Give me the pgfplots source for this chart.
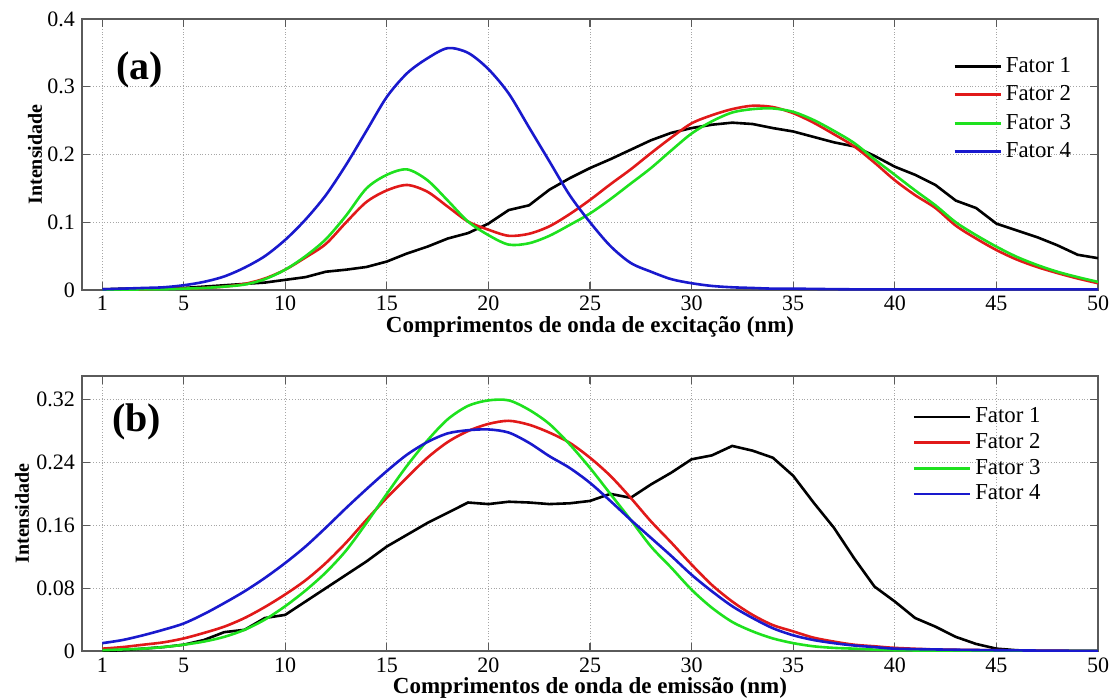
\documentclass[border=0pt]{standalone}
\usepackage{fontspec}
\setmainfont{Liberation Serif}
\usepackage{pgfplots}
\pgfplotsset{compat=1.18}
\definecolor{cred}{RGB}{225,25,25}
\definecolor{cgreen}{RGB}{30,225,30}
\definecolor{cblue}{RGB}{25,25,205}
\definecolor{axgray}{RGB}{90,90,90}
\pgfplotsset{
  myaxis/.style={
    scale only axis, width=508pt,
    xmin=0, xmax=50,
    xtick={1,5,10,15,20,25,30,35,40,45,50},
    grid=major,
    major grid style={densely dotted, gray!70, line width=0.5pt},
    axis line style={axgray, line width=0.7pt},
    tick style={axgray, line width=0.6pt},
    tick align=inside, major tick length=4pt,
    tick label style={font=\fontsize{11}{11}\selectfont},
    xticklabel style={inner ysep=0.5pt, yshift=-2.7pt},
    /pgf/number format/assume math mode=true,
    label style={font=\bfseries\fontsize{11.5}{11.5}\selectfont},
    legend cell align=left,
    legend style={draw=none, fill=none, inner sep=0pt, font=\fontsize{11.4}{11.4}\selectfont},
    every axis plot/.append style={line width=1.3pt},
  }
}
\begin{document}
\begin{tikzpicture}
\useasboundingbox (-41pt,-23.5pt) rectangle (514.5pt,325.5pt);
% ---------------- top panel
\begin{axis}[myaxis, at={(0pt,180.5pt)}, anchor=south west, height=135.5pt,
  ymin=0, ymax=0.4, ytick={0,0.1,0.2,0.3,0.4},
  yticklabels={0,0.1,0.2,0.3,0.4},
  xticklabel style={yshift=0.6pt},
  xlabel={Comprimentos de onda de excitação (nm)},
  xlabel style={at={(axis description cs:0.5,-0.158)}, anchor=base, inner sep=0pt},
  ylabel={Intensidade},
  ylabel style={font=\bfseries\fontsize{10}{10}\selectfont, at={(axis description cs:-0.0463,0.5)}, anchor=center},
  legend style={at={(0.857,0.874)}, anchor=north west, row sep=1.1pt},
  legend image code/.code={\draw[#1, line width=1.4pt] (0pt,0pt) -- (23pt,0pt);},
]
\addplot[black] coordinates {(1,0.001)(2,0.002)(3,0.002)(4,0.002)(5,0.003)(6,0.005)(7,0.007)(8,0.009)(9,0.011)(10,0.015)(11,0.019)(12,0.027)(13,0.030)(14,0.034)(15,0.042)(16,0.054)(17,0.064)(18,0.076)(19,0.084)(20,0.098)(21,0.118)(22,0.125)(23,0.148)(24,0.165)(25,0.180)(26,0.193)(27,0.207)(28,0.221)(29,0.232)(30,0.239)(31,0.244)(32,0.247)(33,0.245)(34,0.239)(35,0.234)(36,0.226)(37,0.218)(38,0.212)(39,0.198)(40,0.182)(41,0.170)(42,0.155)(43,0.132)(44,0.121)(45,0.098)(46,0.088)(47,0.078)(48,0.066)(49,0.052)(50,0.047)};
\addlegendentry{Fator 1}
\addplot[cred, smooth, tension=0.5] coordinates {(1,0.000)(2,0.001)(3,0.001)(4,0.002)(5,0.002)(6,0.003)(7,0.005)(8,0.009)(9,0.017)(10,0.030)(11,0.048)(12,0.068)(13,0.100)(14,0.130)(15,0.147)(16,0.155)(17,0.145)(18,0.123)(19,0.101)(20,0.089)(21,0.080)(22,0.083)(23,0.094)(24,0.112)(25,0.133)(26,0.156)(27,0.178)(28,0.202)(29,0.225)(30,0.246)(31,0.258)(32,0.267)(33,0.272)(34,0.270)(35,0.261)(36,0.247)(37,0.230)(38,0.212)(39,0.188)(40,0.162)(41,0.140)(42,0.121)(43,0.095)(44,0.076)(45,0.059)(46,0.045)(47,0.034)(48,0.025)(49,0.017)(50,0.010)};
\addlegendentry{Fator 2}
\addplot[cgreen, smooth, tension=0.5] coordinates {(1,0.000)(2,0.000)(3,0.001)(4,0.001)(5,0.002)(6,0.003)(7,0.005)(8,0.008)(9,0.016)(10,0.030)(11,0.050)(12,0.075)(13,0.110)(14,0.150)(15,0.170)(16,0.178)(17,0.162)(18,0.132)(19,0.101)(20,0.081)(21,0.067)(22,0.069)(23,0.080)(24,0.096)(25,0.113)(26,0.134)(27,0.157)(28,0.180)(29,0.206)(30,0.231)(31,0.249)(32,0.262)(33,0.267)(34,0.268)(35,0.263)(36,0.251)(37,0.235)(38,0.217)(39,0.193)(40,0.170)(41,0.147)(42,0.125)(43,0.100)(44,0.081)(45,0.064)(46,0.049)(47,0.037)(48,0.027)(49,0.019)(50,0.012)};
\addlegendentry{Fator 3}
\addplot[cblue, smooth, tension=0.5] coordinates {(1,0.001)(2,0.002)(3,0.003)(4,0.004)(5,0.007)(6,0.012)(7,0.020)(8,0.033)(9,0.050)(10,0.074)(11,0.104)(12,0.140)(13,0.185)(14,0.235)(15,0.285)(16,0.320)(17,0.342)(18,0.357)(19,0.350)(20,0.326)(21,0.290)(22,0.240)(23,0.190)(24,0.140)(25,0.100)(26,0.065)(27,0.040)(28,0.027)(29,0.016)(30,0.010)(31,0.006)(32,0.004)(33,0.003)(34,0.002)(35,0.002)(38,0.001)(42,0.001)(46,0.001)(50,0.001)};
\addlegendentry{Fator 4}
\node[font=\bfseries\fontsize{20}{20}\selectfont] at (axis cs:2.85,0.325) {(a)};
\end{axis}
% ---------------- bottom panel
\begin{axis}[myaxis, at={(0pt,0pt)}, anchor=south west, height=137.5pt,
  ymin=0, ymax=0.35, ytick={0,0.08,0.16,0.24,0.32},
  yticklabels={0,0.08,0.16,0.24,0.32},
  xlabel={Comprimentos de onda de emissão (nm)},
  xlabel style={at={(axis description cs:0.5,-0.1527)}, anchor=base, inner sep=0pt},
  ylabel={Intensidade},
  ylabel style={font=\bfseries\fontsize{10}{10}\selectfont, at={(axis description cs:-0.059,0.5)}, anchor=center},
  legend style={at={(0.817,0.9)}, anchor=north west, row sep=-0.2pt},
  legend image code/.code={\draw[#1, line width=1.4pt] (0pt,0pt) -- (28pt,0pt);},
]
\addplot[black] coordinates {(1,0.000)(2,0.001)(3,0.003)(4,0.005)(5,0.008)(6,0.014)(7,0.024)(8,0.027)(9,0.042)(10,0.046)(11,0.063)(12,0.080)(13,0.097)(14,0.114)(15,0.133)(16,0.148)(17,0.163)(18,0.176)(19,0.189)(20,0.187)(21,0.190)(22,0.189)(23,0.187)(24,0.188)(25,0.191)(26,0.200)(27,0.195)(28,0.212)(29,0.227)(30,0.244)(31,0.249)(32,0.261)(33,0.255)(34,0.246)(35,0.223)(36,0.189)(37,0.157)(38,0.118)(39,0.082)(40,0.063)(41,0.042)(42,0.031)(43,0.018)(44,0.009)(45,0.003)(46,0.001)(47,0.000)(50,0.000)};
\addlegendentry{Fator 1}
\addplot[cred, smooth, tension=0.5] coordinates {(1,0.003)(2,0.005)(3,0.008)(4,0.011)(5,0.016)(6,0.023)(7,0.031)(8,0.042)(9,0.056)(10,0.072)(11,0.090)(12,0.112)(13,0.138)(14,0.167)(15,0.195)(16,0.221)(17,0.246)(18,0.266)(19,0.280)(20,0.289)(21,0.293)(22,0.288)(23,0.278)(24,0.265)(25,0.246)(26,0.223)(27,0.195)(28,0.165)(29,0.138)(30,0.110)(31,0.084)(32,0.063)(33,0.046)(34,0.033)(35,0.025)(36,0.017)(37,0.012)(38,0.008)(39,0.006)(40,0.004)(42,0.002)(45,0.001)(50,0.000)};
\addlegendentry{Fator 2}
\addplot[cgreen, smooth, tension=0.5] coordinates {(1,0.001)(2,0.002)(3,0.003)(4,0.005)(5,0.008)(6,0.012)(7,0.018)(8,0.027)(9,0.040)(10,0.057)(11,0.077)(12,0.100)(13,0.128)(14,0.163)(15,0.200)(16,0.236)(17,0.268)(18,0.295)(19,0.312)(20,0.319)(21,0.319)(22,0.307)(23,0.289)(24,0.263)(25,0.233)(26,0.200)(27,0.167)(28,0.133)(29,0.106)(30,0.078)(31,0.055)(32,0.037)(33,0.025)(34,0.016)(35,0.010)(36,0.006)(37,0.004)(38,0.003)(40,0.001)(45,0.000)(50,0.000)};
\addlegendentry{Fator 3}
\addplot[cblue, smooth, tension=0.5] coordinates {(1,0.010)(2,0.014)(3,0.020)(4,0.027)(5,0.035)(6,0.047)(7,0.061)(8,0.076)(9,0.093)(10,0.112)(11,0.133)(12,0.157)(13,0.182)(14,0.206)(15,0.229)(16,0.250)(17,0.266)(18,0.277)(19,0.281)(20,0.282)(21,0.278)(22,0.265)(23,0.248)(24,0.233)(25,0.214)(26,0.191)(27,0.167)(28,0.144)(29,0.121)(30,0.097)(31,0.076)(32,0.057)(33,0.042)(34,0.029)(35,0.020)(36,0.014)(37,0.010)(38,0.007)(39,0.005)(40,0.003)(42,0.002)(45,0.001)(50,0.000)};
\addlegendentry{Fator 4}
\node[font=\bfseries\fontsize{20}{20}\selectfont] at (axis cs:2.7,0.291) {(b)};
\end{axis}
\end{tikzpicture}
\end{document}
